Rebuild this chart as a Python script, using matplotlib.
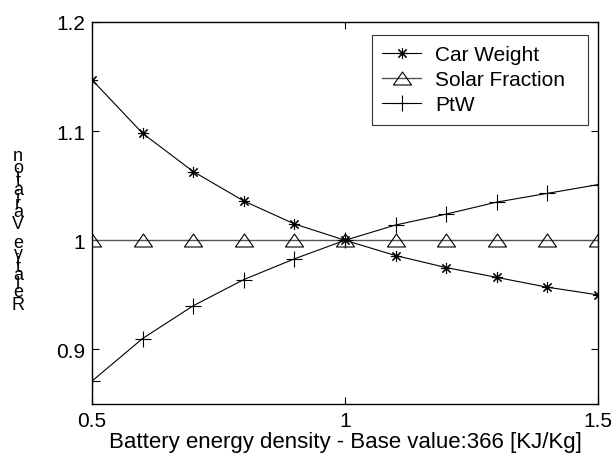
import matplotlib
matplotlib.use("Agg")
import matplotlib.pyplot as plt
from matplotlib.path import Path

plt.rcParams['font.family'] = ['Liberation Sans', 'DejaVu Sans']

x = [0.5, 0.6, 0.7, 0.8, 0.9, 1.0, 1.1, 1.2, 1.3, 1.4, 1.5]
car_weight = [1.147, 1.098, 1.063, 1.036, 1.015, 1.000, 0.986, 0.975, 0.966, 0.957, 0.950]
solar_fraction = [1.0, 1.0, 1.0, 1.0, 1.0, 1.0, 1.0, 1.0, 1.0, 1.0, 1.0]
ptw = [0.871, 0.910, 0.940, 0.964, 0.983, 1.000, 1.014, 1.024, 1.035, 1.043, 1.051]
xticks = [0.5, 1.0, 1.5]
xticklabels = ['0.5', '1', '1.5']
yticks = [0.9, 1.0, 1.1, 1.2]
yticklabels = ['0.9', '1', '1.1', '1.2']
xlabel = 'Battery energy density - Base value:366 [KJ/Kg]'
ylabel = 'Relative Variation'

FS = 15
W, H = 614, 464

fig = plt.figure(figsize=(6.14, 4.64), dpi=100)
ax = fig.add_axes([92/W, 1 - 405/H, (598 - 92)/W, (405 - 23)/H])

# flat open triangle like the reference
tri = Path([(-1.0, -0.72), (1.0, -0.72), (0.0, 0.72), (-1.0, -0.72)],
           [Path.MOVETO, Path.LINETO, Path.LINETO, Path.CLOSEPOLY])

ax.plot(x, car_weight, color='black', lw=0.8, marker=(8, 2, 0), markersize=8,
        markeredgewidth=0.8, label='Car Weight')
ax.plot(x, solar_fraction, color='#555555', lw=1.0, marker=tri, markersize=13,
        markerfacecolor='none', markeredgecolor='black', markeredgewidth=0.8,
        label='Solar Fraction')
ax.plot(x, ptw, color='black', lw=0.8, marker='+', markersize=12,
        markeredgewidth=0.8, label='PtW')

ax.set_xlim(0.5, 1.5)
ax.set_ylim(0.85, 1.2)
ax.set_xticks(xticks)
ax.set_xticklabels(xticklabels)
ax.set_yticks(yticks)
ax.set_yticklabels(yticklabels)
ax.tick_params(direction='in', top=True, right=True, labelsize=FS, length=5,
               width=0.8, pad=5)
for s in ax.spines.values():
    s.set_linewidth(1.0)

ax.set_xlabel(xlabel, fontsize=16, labelpad=1)

# y label drawn as in the reference: upright letters stacked bottom to top,
# spaced by the advance widths of the horizontal string
renderer = fig.canvas.get_renderer()
def _w(s):
    if not s:
        return 0.0
    t = fig.text(0, 0, s, fontsize=FS)
    w = t.get_window_extent(renderer).width
    t.remove()
    return w
edges = [_w(ylabel[:i]) for i in range(len(ylabel) + 1)]
total = edges[-1]
cx, cy = 18, 232
bottom = cy + total / 2
for i, ch in enumerate(ylabel):
    if ch == ' ':
        continue
    c = (edges[i] + edges[i + 1]) / 2
    ypix = bottom - c
    fig.text(cx / W, 1 - ypix / H, ch, fontsize=13, ha='center', va='center')

# legend box spanning the same region as in the reference
lx0, lx1, ly0 = 372, 588, 35.5
leg = ax.legend(loc='upper left', bbox_to_anchor=(lx0/W, 1 - ly0/H - 0.2, (lx1 - lx0)/W, 0.2),
                bbox_transform=fig.transFigure, mode='expand', fontsize=FS,
                frameon=True, fancybox=False, edgecolor='black',
                handlelength=1.87, borderaxespad=0.0, labelspacing=0.3,
                handletextpad=0.67, borderpad=0.5)
leg.get_frame().set_linewidth(0.8)

fig.savefig('out.png', dpi=100)
